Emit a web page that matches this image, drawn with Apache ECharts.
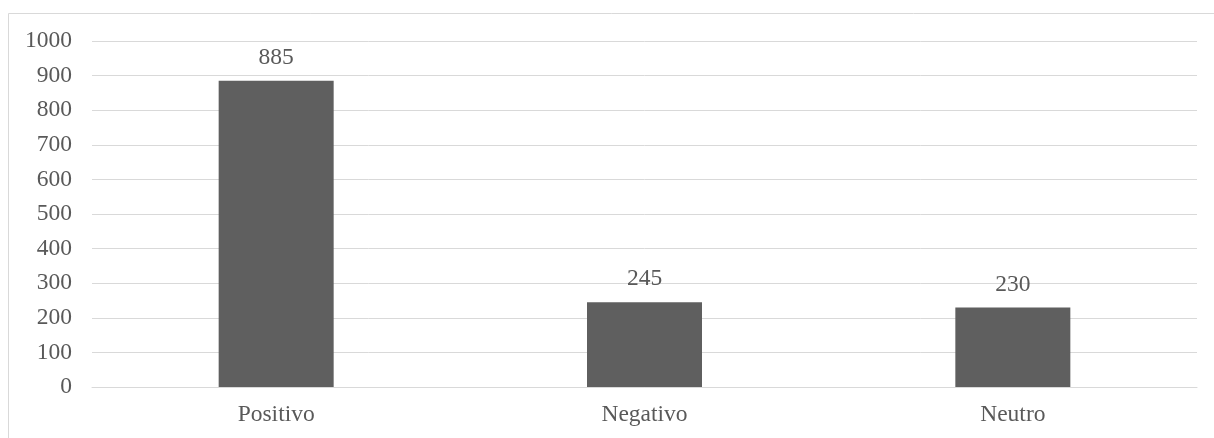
<!DOCTYPE html>
<html>
<head>
<meta charset="utf-8">
<script src="https://cdn.jsdelivr.net/npm/echarts@6/dist/echarts.min.js"></script>
<style>html,body{margin:0;padding:0;background:#fff;}#c{width:1214px;height:438px;}</style>
</head>
<body>
<div id="c"></div>
<script>
const categories = ['Positivo', 'Negativo', 'Neutro'];
const values = [885, 245, 230];
const yMin = 0, yMax = 1000, yStep = 100;

const font = '"Liberation Serif", "Times New Roman", serif';
const chart = echarts.init(document.getElementById('c'));
chart.setOption({
  animation: false,
  backgroundColor: '#ffffff',
  graphic: [{
    type: 'rect', left: 6, top: 11, silent: true,
    shape: { width: 1230, height: 450 },
    style: { fill: 'none', stroke: '#d9d9d9', lineWidth: 1 }
  }],
  grid: { left: 92, right: 17, top: 41, bottom: 51, containLabel: false },
  xAxis: {
    type: 'category', data: categories,
    axisLine: { show: true, lineStyle: { color: '#d9d9d9', width: 1 } },
    axisTick: { show: false },
    axisLabel: { color: '#595959', fontFamily: font, fontSize: 23.5, margin: 16 }
  },
  yAxis: {
    type: 'value', min: yMin, max: yMax, interval: yStep,
    axisLine: { show: false }, axisTick: { show: false },
    splitLine: { lineStyle: { color: '#d9d9d9', width: 1 } },
    axisLabel: { color: '#595959', fontFamily: font, fontSize: 23.5, margin: 20,
      formatter: function (v) { return String(v); } }
  },
  series: [{
    type: 'bar', data: values, barWidth: 115,
    itemStyle: { color: '#5f5f5f' },
    label: { show: true, position: 'top', distance: 11, color: '#595959', fontFamily: font, fontSize: 23.5 }
  }]
});
</script>
</body>
</html>
